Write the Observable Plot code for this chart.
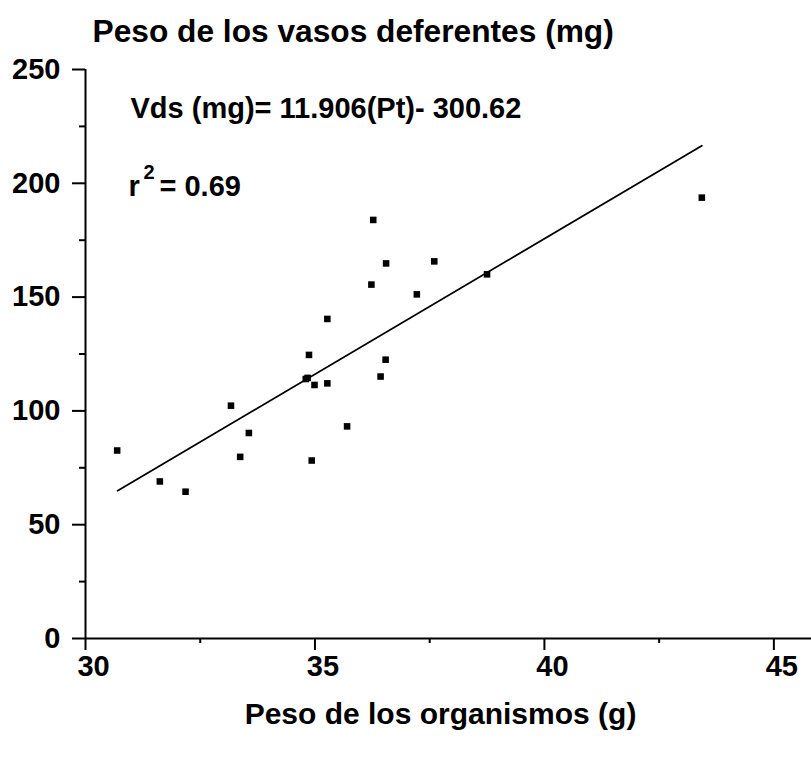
<!DOCTYPE html>
<html><head><meta charset="utf-8">
<script src="https://cdn.jsdelivr.net/npm/d3@7"></script>
<script src="https://cdn.jsdelivr.net/npm/@observablehq/plot@0.6"></script>
<style>html,body{margin:0;padding:0;background:#fff;overflow:hidden}</style>
</head><body><div id="chart"></div>
<script>
// Data
const weight    = [30.69, 31.62, 32.18, 33.17, 33.56, 33.37, 34.84, 34.80, 34.87, 34.99, 35.27, 35.27, 34.93, 35.70, 36.23, 36.27, 36.55, 37.60, 37.22, 36.54, 36.43, 38.75, 43.43];
const vasWeight = [82.6, 69.0, 64.5, 102.3, 90.3, 79.8, 114.5, 114.0, 124.6, 111.4, 112.1, 140.4, 78.2, 93.2, 155.5, 183.9, 164.8, 165.7, 151.2, 122.5, 115.1, 160.0, 193.7];
const fitX = [30.7, 43.43];
const fitY = [64.9, 216.5];
const xTicks = [30, 35, 40, 45];
const xMinorTicks = [32.5, 37.5, 42.5];
const yTicks = [0, 50, 100, 150, 200, 250];
const yMinorTicks = [25, 75, 125, 175, 225];
const titleText = "Peso de los vasos deferentes (mg)";
const xLabelText = "Peso de los organismos (g)";
const equationText = "Vds (mg)= 11.906(Pt)- 300.62";
const r2Base = "r";
const r2Exp = "2";
const r2Value = "= 0.69";

const points = weight.map((w, i) => ({w, v: vasWeight[i]}));
const fit = fitX.map((x, i) => ({x, y: fitY[i]}));
const font = "'Liberation Sans', Arial, Helvetica, sans-serif";
const txt = (s, o) => Plot.text([s], {text: d => d, frameAnchor: "top-left", lineAnchor: "bottom", textAnchor: "start", fontWeight: "bold", fill: "black", ...o});

const chart = Plot.plot({
  width: 811, height: 761,
  marginLeft: 85, marginRight: 0, marginTop: 69, marginBottom: 123,
  style: {fontFamily: font, fontWeight: "bold", background: "white", color: "black"},
  x: {domain: [30, 45.82]},
  y: {domain: [0, 250]},
  marks: [
    Plot.ruleY([0], {stroke: "black", strokeWidth: 2}),
    Plot.ruleX([30], {stroke: "black", strokeWidth: 2}),
    Plot.axisX({ticks: xTicks, tickSize: 12, text: null, label: null, strokeWidth: 2}),
    Plot.axisX({ticks: xMinorTicks, tickSize: 5, text: null, label: null, strokeWidth: 2}),
    Plot.axisX({ticks: xTicks, tickSize: 0, tickPadding: 17, dx: 8, fontSize: 29, fontWeight: "bold", label: null}),
    Plot.axisY({ticks: yTicks, tickSize: 13, tickPadding: 12, fontSize: 29, fontWeight: "bold", strokeWidth: 2, label: null}),
    Plot.axisY({ticks: yMinorTicks, tickSize: 6, text: null, label: null, strokeWidth: 2}),
    Plot.line(fit, {x: "x", y: "y", stroke: "black", strokeWidth: 1.8}),
    Plot.dot(points, {x: "w", y: "v", symbol: "square", r: 3.7, fill: "black", stroke: "none"}),
    txt(titleText, {dx: 7, dy: -28, fontSize: 31.7}),
    txt(equationText, {dx: 45, dy: 48, fontSize: 29}),
    txt(r2Base, {dx: 43, dy: 126, fontSize: 29}),
    txt(r2Exp, {dx: 58, dy: 109, fontSize: 20}),
    txt(r2Value, {dx: 74, dy: 126, fontSize: 29}),
    Plot.text([xLabelText], {text: d => d, frameAnchor: "bottom", dx: -8, dy: 85, lineAnchor: "bottom", fontSize: 30, fontWeight: "bold", fill: "black"})
  ]
});
document.getElementById("chart").appendChild(chart);
</script>
</body></html>
